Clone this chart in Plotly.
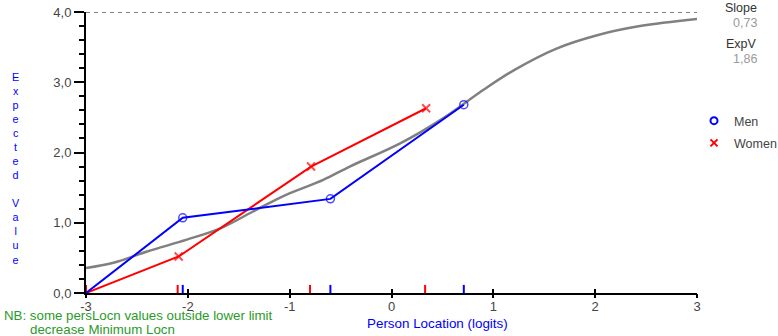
import plotly.graph_objects as go

# ---------------- data ----------------
curve_x = [-3.0, -2.73, -2.40, -2.01, -1.68, -1.36, -1.03, -0.67, -0.41, 0.085, 0.51, 0.90, 1.20, 1.62, 2.02, 2.44, 3.0]
curve_y = [0.355, 0.43, 0.59, 0.76, 0.92, 1.16, 1.40, 1.61, 1.80, 2.13, 2.49, 2.89, 3.17, 3.48, 3.67, 3.80, 3.90]

men_x = [-3.0, -2.05, -0.60, 0.71]
men_y = [0.0, 1.07, 1.34, 2.68]
women_x = [-3.0, -2.09, -0.79, 0.34]
women_y = [0.0, 0.52, 1.80, 2.63]

men_ticks = [-3.0, -2.05, -0.60, 0.71]
women_ticks = [-3.0, -2.10, -0.80, 0.33]

x_tickvals = [-3, -2, -1, 0, 1, 2, 3]
x_ticktext = ["-3", "-2", "-1", "0", "1", "2", "3"]
y_tickvals = [0, 1, 2, 3, 4]
y_ticktext = ["0,0", "1,0", "2,0", "3,0", "4,0"]

max_score = 4.0
slope = 0.73
expv = 1.86

# ---------------- style ----------------
BLUE = "#0000ff"
RED = "#ff0000"
GREY = "#808080"
GREEN = "#2a9a2a"
FONT = "Liberation Sans, Arial, sans-serif"
TICK_H = 0.115  # height of class-interval marks in value units

fig = go.Figure()

# max score reference line
fig.add_trace(go.Scatter(x=[x_tickvals[0], x_tickvals[-1]], y=[max_score, max_score], mode="lines",
                         line=dict(color="black", width=1, dash="4px,4px"), showlegend=False,
                         hoverinfo="skip", cliponaxis=False))

# expected value curve
fig.add_trace(go.Scatter(x=curve_x, y=curve_y, mode="lines", line=dict(color=GREY, width=2.5, shape="spline"),
                         showlegend=False))

def tick_segments(vals):
    xs, ys = [], []
    for v in vals:
        xs += [v, v, None]
        ys += [0, TICK_H, None]
    return xs, ys

mx, my = tick_segments(men_ticks)
wx, wy = tick_segments(women_ticks)
fig.add_trace(go.Scatter(x=mx, y=my, mode="lines", line=dict(color=BLUE, width=2), showlegend=False,
                         cliponaxis=False, hoverinfo="skip"))
fig.add_trace(go.Scatter(x=wx, y=wy, mode="lines", line=dict(color=RED, width=2), showlegend=False,
                         cliponaxis=False, hoverinfo="skip"))

# group lines
msizes = [0] + [8] * (len(men_x) - 1)
wsizes = [0] + [8] * (len(women_x) - 1)
fig.add_trace(go.Scatter(x=women_x, y=women_y, mode="lines+markers", line=dict(color=RED, width=2),
                         marker=dict(symbol="x-thin-open", size=wsizes, color=RED, line=dict(color=RED, width=2)),
                         showlegend=False, cliponaxis=False))
fig.add_trace(go.Scatter(x=men_x, y=men_y, mode="lines+markers", line=dict(color=BLUE, width=2),
                         marker=dict(symbol="circle-open", size=msizes, color=BLUE, line=dict(color=BLUE, width=1.5)),
                         showlegend=False, cliponaxis=False))

# legend entries (markers only)
fig.add_trace(go.Scatter(x=[None], y=[None], mode="markers", name="Men", legendgroup="m",
                         marker=dict(symbol="circle-open", size=7, color=BLUE, line=dict(color=BLUE, width=2))))
fig.add_trace(go.Scatter(x=[None], y=[None], mode="markers", name="Women", legendgroup="w",
                         marker=dict(symbol="x-thin-open", size=7, color=RED, line=dict(color=RED, width=2))))

annotations = [
    dict(text="Slope", x=759, y=8),
    dict(text=f"{slope:.2f}".replace(".", ","), x=759, y=23, color="#9a9a9a"),
    dict(text="ExpV", x=759, y=44),
    dict(text=f"{expv:.2f}".replace(".", ","), x=759, y=59, color="#9a9a9a"),
]
W, H = 778, 336
L, R, T, B = 86, 81, 12, 43
pw, ph = W - L - R, H - T - B

def px_to_paper(px, py):
    return (px - L) / pw, (H - B - py) / ph

anns = []
for a in annotations:
    ax, ay = px_to_paper(a["x"], a["y"])
    anns.append(dict(text=a["text"], x=ax, y=ay, xref="paper", yref="paper", xanchor="right", yanchor="middle",
                     showarrow=False, font=dict(family=FONT, size=12.5, color=a.get("color", "#333333"))))

# vertical stacked y title
ax, ay = px_to_paper(16, 168.5)
anns.append(dict(text="<br>".join(list("Expected")) + "<br> <br>" + "<br>".join(list("Value")),
                 x=ax, y=ay, xref="paper", yref="paper", xanchor="center", yanchor="middle", showarrow=False,
                 font=dict(family=FONT, size=10.8, color=BLUE)))
ax, ay = px_to_paper(437, 323.5)
anns.append(dict(text="Person Location (logits)", x=ax, y=ay, xref="paper", yref="paper", xanchor="center",
                 yanchor="middle", showarrow=False, font=dict(family=FONT, size=13.4, color=BLUE)))
ax, ay = px_to_paper(2, 315.5)
anns.append(dict(text="NB: some persLocn values outside lower limit", x=ax, y=ay, xref="paper", yref="paper",
                 xanchor="left", yanchor="middle", showarrow=False, font=dict(family=FONT, size=13.3, color=GREEN)))
ax, ay = px_to_paper(28, 329.5)
anns.append(dict(text="decrease Minimum Locn", x=ax, y=ay, xref="paper", yref="paper",
                 xanchor="left", yanchor="middle", showarrow=False, font=dict(family=FONT, size=13.3, color=GREEN)))

lx, ly = px_to_paper(694, 106)

fig.update_layout(
    width=W, height=H, margin=dict(l=L, r=R, t=T, b=B, pad=0, autoexpand=False),
    paper_bgcolor="white", plot_bgcolor="white",
    font=dict(family=FONT, size=13, color="#444444"),
    showlegend=True,
    legend=dict(x=lx, y=ly, xanchor="left", yanchor="top", xref="paper", yref="paper",
                font=dict(family=FONT, size=12.5), tracegroupgap=3, itemclick=False,
                bgcolor="rgba(0,0,0,0)"),
    xaxis=dict(range=[-3, 3], tickvals=x_tickvals, ticktext=x_ticktext, showgrid=False, zeroline=False,
               showline=True, linecolor="black", linewidth=2, ticks="inside", ticklen=4, tickwidth=1.5,
               tickcolor="black", tickfont=dict(size=13, color="#444444"), fixedrange=True, automargin=False),
    xaxis2=dict(range=[-3, 3], overlaying="x", anchor="y", side="bottom", tickvals=x_tickvals,
                showticklabels=False, showgrid=False, zeroline=False, showline=False, ticks="outside",
                ticklen=4, tickwidth=1.5, tickcolor="black", automargin=False),
    yaxis=dict(range=[0, 4], tickvals=y_tickvals, ticktext=y_ticktext, showgrid=False, zeroline=False,
               showline=True, linecolor="black", linewidth=2, ticks="outside", ticklen=10, tickwidth=2,
               tickcolor="black", tickfont=dict(size=13, color="#444444"), automargin=False,
               minor=dict(ticks="outside", ticklen=5, tickwidth=1.5, tickcolor="black", dtick=0.2, tick0=0,
                          showgrid=False)),
    annotations=anns,
)
# dummy trace to activate xaxis2
fig.add_trace(go.Scatter(x=[None], y=[None], xaxis="x2", showlegend=False))

fig.write_html("out.html", config={"displayModeBar": False},
               post_script="document.body.style.margin='0';document.body.style.overflow='hidden';")
